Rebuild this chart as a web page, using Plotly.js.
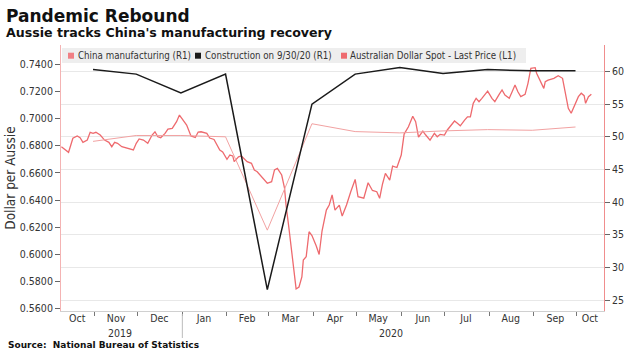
<!DOCTYPE html>
<html>
<head>
<meta charset="utf-8">
<script src="https://cdn.plot.ly/plotly-3.0.1.min.js"></script>
<style>html,body{margin:0;padding:0;background:#fff;}#chart{width:637px;height:353px;}</style>
</head>
<body>
<div id="chart"></div>
<script>
// ---------- DATA ----------
const pmiDates = ['2019-10-31','2019-11-30','2019-12-31','2020-01-31','2020-02-29','2020-03-31','2020-04-30','2020-05-31','2020-06-30','2020-07-31','2020-08-31','2020-09-30'];
const chinaManufacturing = [49.3,50.2,50.2,50.0,35.7,52.0,50.8,50.6,50.9,51.1,51.0,51.5];
const construction = [60.3,59.6,56.7,59.6,26.6,55.0,59.6,60.6,59.7,60.3,60.1,60.1];

const audDates = ['2019-10-09','2019-10-12','2019-10-14','2019-10-17','2019-10-20','2019-10-22','2019-10-24','2019-10-27','2019-10-29','2019-10-31',
'2019-11-02','2019-11-05','2019-11-08','2019-11-11','2019-11-13','2019-11-15','2019-11-17','2019-11-20','2019-11-22','2019-11-24','2019-11-28','2019-11-30',
'2019-12-02','2019-12-05','2019-12-08','2019-12-11','2019-12-13','2019-12-15','2019-12-17','2019-12-20','2019-12-22','2019-12-25','2019-12-28','2019-12-30',
'2020-01-04','2020-01-07','2020-01-10','2020-01-12','2020-01-14','2020-01-18','2020-01-20','2020-01-23','2020-01-25','2020-01-27','2020-01-29',
'2020-02-01','2020-02-03','2020-02-05','2020-02-06','2020-02-09','2020-02-11','2020-02-13','2020-02-15','2020-02-18','2020-02-20','2020-02-22','2020-02-25','2020-02-27','2020-02-29',
'2020-03-03','2020-03-05','2020-03-07','2020-03-10','2020-03-12','2020-03-13','2020-03-15','2020-03-18','2020-03-20','2020-03-22','2020-03-24','2020-03-25','2020-03-27','2020-03-29','2020-03-31',
'2020-04-03','2020-04-05','2020-04-07','2020-04-10','2020-04-12','2020-04-14','2020-04-16','2020-04-19','2020-04-21','2020-04-24','2020-04-27','2020-04-30',
'2020-05-02','2020-05-06','2020-05-09','2020-05-12','2020-05-15','2020-05-17','2020-05-19','2020-05-21','2020-05-24','2020-05-26','2020-05-29',
'2020-06-01','2020-06-03','2020-06-06','2020-06-09','2020-06-11','2020-06-13','2020-06-16','2020-06-18','2020-06-21','2020-06-24','2020-06-26','2020-06-28',
'2020-07-01','2020-07-03','2020-07-05','2020-07-08','2020-07-10','2020-07-12','2020-07-15','2020-07-17','2020-07-19','2020-07-21','2020-07-23','2020-07-25','2020-07-27','2020-07-30','2020-07-31',
'2020-08-03','2020-08-05','2020-08-08','2020-08-10','2020-08-12','2020-08-15','2020-08-17','2020-08-19','2020-08-21','2020-08-23','2020-08-26','2020-08-28','2020-08-30',
'2020-09-02','2020-09-03','2020-09-06','2020-09-08','2020-09-09','2020-09-11','2020-09-15','2020-09-18','2020-09-21','2020-09-23','2020-09-25','2020-09-27','2020-09-29',
'2020-10-02','2020-10-04','2020-10-06','2020-10-07','2020-10-09','2020-10-11'];
const audValues = [0.6792,0.6768,0.6751,0.6854,0.6871,0.6858,0.6824,0.6841,0.6898,0.6890,
0.6898,0.6878,0.6841,0.6824,0.6792,0.6824,0.6817,0.6792,0.6785,0.6780,0.6768,0.6817,
0.6849,0.6841,0.6817,0.6878,0.6902,0.6865,0.6858,0.6890,0.6922,0.6927,0.6976,0.7025,
0.6951,0.6871,0.6860,0.6900,0.6902,0.6890,0.6856,0.6845,0.6810,0.6768,0.6753,
0.6699,0.6731,0.6724,0.6682,0.6718,0.6724,0.6706,0.6682,0.6670,0.6621,0.6608,0.6571,0.6547,0.6523,
0.6535,0.6621,0.6633,0.6584,0.6486,0.6363,0.6194,0.5935,0.5746,0.5760,0.5834,0.5959,0.5983,0.6167,0.6139,
0.6062,0.5999,0.6172,0.6326,0.6363,0.6437,0.6326,0.6363,0.6282,0.6363,0.6462,0.6551,
0.6424,0.6413,0.6527,0.6470,0.6461,0.6413,0.6518,0.6596,0.6547,0.6650,0.6639,
0.6731,0.6885,0.6939,0.7016,0.6976,0.6863,0.6907,0.6878,0.6841,0.6890,0.6865,0.6883,
0.6878,0.6915,0.6939,0.6981,0.6964,0.6946,0.6988,0.7012,0.7012,0.7111,0.7148,0.7123,0.7148,0.7185,0.7201,
0.7148,0.7123,0.7177,0.7209,0.7172,0.7148,0.7196,0.7246,0.7196,0.7160,0.7177,0.7258,0.7368,
0.7373,0.7332,0.7270,0.7221,0.7270,0.7282,0.7295,0.7314,0.7295,0.7172,0.7074,0.7038,0.7086,
0.7160,0.7185,0.7167,0.7111,0.7160,0.7177];

const monthStarts = ['2019-11-01','2019-12-01','2020-01-01','2020-02-01','2020-03-01','2020-04-01','2020-05-01','2020-06-01','2020-07-01','2020-08-01','2020-09-01','2020-10-01'];
const monthLabelDates = ['2019-10-20','2019-11-16','2019-12-16','2020-01-16','2020-02-15','2020-03-16','2020-04-16','2020-05-16','2020-06-16','2020-07-16','2020-08-16','2020-09-16','2020-10-10'];
const monthLabels = ['Oct','Nov','Dec','Jan','Feb','Mar','Apr','May','Jun','Jul','Aug','Sep','Oct'];
const yearLabels = ['2019','2020'];
const yearLabelDates = ['2019-11-19','2020-05-25'];
const leftTicks = [0.56,0.58,0.60,0.62,0.64,0.66,0.68,0.70,0.72,0.74];
const rightTicks = [25,30,35,40,45,50,55,60];
const seriesNames = ['China manufacturing (R1)','Construction on 9/30/20 (R1)','Australian Dollar Spot - Last Price (L1)'];

// ---------- LAYOUT HELPERS ----------
const W = 637, H = 353;
const M = {l:61, r:33, t:45, b:42};
const PW = W - M.l - M.r, PH = H - M.t - M.b;
const px = x => (x - M.l) / PW;
const py = y => (H - M.b - y) / PH;

const FONT = 'DejaVu Sans Condensed, DejaVu Sans, sans-serif';
const BOLD = 'DejaVu Sans, sans-serif';
const colMfg = '#f2a2a2', colMfgKey = '#f07f84', colAud = '#ee6a6e', colCon = '#1a1a1a';

const traces = [
  {x: audDates, y: audValues, name: seriesNames[2], type:'scatter', mode:'lines', yaxis:'y',
   line:{color:colAud, width:1.3}, showlegend:false, hoverinfo:'skip'},
  {x: pmiDates, y: chinaManufacturing, name: seriesNames[0], type:'scatter', mode:'lines', yaxis:'y2',
   line:{color:colMfg, width:1}, showlegend:false, hoverinfo:'skip'},
  {x: pmiDates, y: construction, name: seriesNames[1], type:'scatter', mode:'lines', yaxis:'y2',
   line:{color:colCon, width:1.5}, showlegend:false, hoverinfo:'skip'}
];

const legendX = [76, 203, 348];
const legendKeyX = [71, 198, 344];
const legendCols = [colMfgKey, colCon, colAud];
const legendY = 55.7;

const annotations = [
  {text:'<b>Pandemic Rebound</b>', xref:'paper', yref:'paper', x:px(4), y:py(16), xanchor:'left', yanchor:'middle', showarrow:false, font:{family:BOLD, size:17, color:'#111'}},
  {text:"<b>Aussie tracks China's manufacturing recovery</b>", xref:'paper', yref:'paper', x:px(4), y:py(33), xanchor:'left', yanchor:'middle', showarrow:false, font:{family:BOLD, size:12.6, color:'#111'}},
  {text:'<b>Source:  National Bureau of Statistics</b>', xref:'paper', yref:'paper', x:px(6), y:py(345), xanchor:'left', yanchor:'middle', showarrow:false, font:{family:BOLD, size:9, color:'#111'}}
];
yearLabels.forEach((t,i)=>annotations.push({text:t, xref:'x', yref:'paper', x:yearLabelDates[i], y:py(332.7), xanchor:'center', yanchor:'middle', showarrow:false, font:{family:FONT, size:10.5, color:'#333'}}));
seriesNames.forEach((t,i)=>annotations.push({text:t, xref:'paper', yref:'paper', x:px(legendX[i]), y:py(legendY), xanchor:'left', yanchor:'middle', showarrow:false, font:{family:FONT, size:9.7, color:'#333'}}));

const shapes = [
  {type:'rect', xref:'paper', yref:'paper', x0:px(62), x1:px(526), y0:py(63), y1:py(48), fillcolor:'#eeeeee', line:{width:0}, layer:'below'},
  {type:'line', xref:'x', yref:'paper', x0:'2020-01-01', x1:'2020-01-01', y0:py(314), y1:py(338), line:{color:'#bbbbbb', width:1}}
];
legendKeyX.forEach((cx,i)=>shapes.push({type:'rect', xref:'paper', yref:'paper', x0:px(cx-3), x1:px(cx+3), y0:py(legendY+3), y1:py(legendY-3), fillcolor:legendCols[i], line:{width:0}}));

const layout = {
  width:W, height:H, margin:M, paper_bgcolor:'#fff', plot_bgcolor:'#fff', showlegend:false,
  font:{family:FONT, size:10.5, color:'#333'},
  xaxis:{type:'date', range:['2019-10-08 18:00','2020-10-19 19:00'], tickmode:'array', tickvals:monthLabelDates, ticktext:monthLabels,
    ticks:'', ticklabelstandoff:-3, showline:true, linecolor:'#d0d0d0', linewidth:1, showgrid:false, zeroline:false, fixedrange:true,
    tickfont:{family:FONT, size:10.5, color:'#333'},
    minor:{tickmode:'array', tickvals:monthStarts, ticks:'outside', ticklen:4, tickcolor:'#777', tickwidth:1, showgrid:false}},
  yaxis:{range:[0.55838,0.754], tickmode:'array', tickvals:leftTicks, tickformat:'.4f', ticks:'outside', ticklen:5, tickcolor:'#666',
    showline:true, linecolor:'#f4b3b3', linewidth:1, showgrid:false, zeroline:false, fixedrange:true,
    tickfont:{family:FONT, size:10.5, color:'#333'},
    title:{text:'Dollar per Aussie', font:{family:FONT, size:13.5, color:'#333'}, standoff:1}},
  yaxis2:{overlaying:'y', side:'right', range:[23.32,64.06], tickmode:'array', tickvals:rightTicks, ticks:'outside', ticklen:5, tickcolor:'#666',
    showline:true, linecolor:'#f08d8d', linewidth:1, showgrid:true, gridcolor:'#e8e8e8', gridwidth:1, zeroline:false, fixedrange:true,
    tickfont:{family:FONT, size:10.5, color:'#333'}},
  annotations:annotations, shapes:shapes
};

Plotly.newPlot('chart', traces, layout, {staticPlot:true, displayModeBar:false});
</script>
</body>
</html>
